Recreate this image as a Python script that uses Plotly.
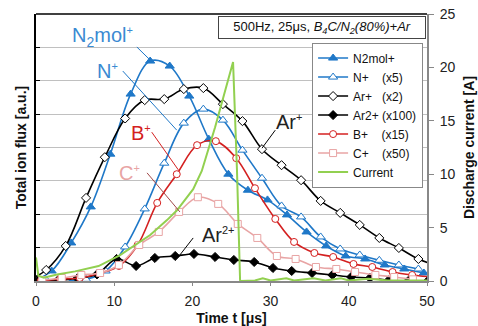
import plotly.graph_objects as go

# ---------------- data ----------------
t_n2mol = [-0.5, 2.0, 4.5, 7.0, 9.5, 12.1, 14.6, 17.1, 19.6, 22.1, 24.6, 27.1, 29.6, 32.1, 34.6, 37.1, 39.6, 42.1, 44.6, 47.1, 49.6]
n2mol = [0.0, 0.30, 1.14, 2.22, 3.80, 5.60, 6.59, 6.44, 5.54, 4.25, 3.20, 2.72, 2.43, 1.98, 1.47, 1.05, 0.75, 0.66, 0.48, 0.36, 0.24]

t_n = [1.4, 3.9, 6.4, 8.9, 11.4, 13.9, 16.4, 18.9, 21.4, 23.9, 26.4, 28.9, 31.4, 33.9, 36.4, 38.9, 41.4, 43.9, 46.4, 48.9]
n_plus = [0.0, 0.0, 0.05, 0.30, 1.02, 2.16, 3.53, 4.73, 5.15, 4.82, 3.92, 3.08, 2.25, 1.92, 1.32, 0.96, 0.78, 0.62, 0.48, 0.36]

t_ar = [-1.2, 1.3, 3.8, 6.4, 8.8, 11.4, 13.9, 16.4, 18.9, 21.4, 23.9, 26.4, 28.9, 31.4, 33.9, 36.4, 38.9, 41.4, 43.9, 46.4, 48.9, 51.4]
ar_plus = [0.0, 0.33, 1.05, 2.49, 3.71, 4.87, 5.42, 5.45, 5.75, 5.78, 5.30, 4.79, 3.95, 3.47, 3.02, 2.40, 2.04, 1.68, 1.29, 0.99, 0.66, 0.45]

t_ar2 = [0.3, 2.8, 5.3, 7.8, 10.3, 12.8, 15.2, 17.8, 20.2, 22.9, 25.3, 27.9, 30.3, 32.7, 35.3, 37.9, 40.3, 42.7, 45.1, 47.6, 50.1]
ar2_plus = [0.05, 0.02, 0.08, 0.20, 0.66, 0.45, 0.69, 0.75, 0.81, 0.72, 0.63, 0.57, 0.39, 0.30, 0.24, 0.18, 0.12, 0.09, 0.02, 0.0, 0.0]

t_b = [0.6, 3.1, 5.6, 8.2, 10.6, 13.0, 15.5, 18.0, 20.6, 23.0, 25.6, 28.0, 30.6, 33.0, 35.6, 38.0, 40.6, 43.0, 45.6, 48.1, 50.6]
b_plus = [0.0, 0.06, 0.09, 0.24, 0.45, 1.08, 2.34, 3.20, 4.07, 4.19, 3.68, 2.78, 1.86, 1.17, 0.84, 0.72, 0.51, 0.42, 0.27, 0.18, 0.12]

t_c = [0.8, 3.3, 5.8, 8.2, 10.6, 13.2, 15.7, 18.3, 20.7, 23.3, 25.8, 28.3, 30.8, 33.2, 35.8, 38.4, 40.8, 43.4, 45.8, 48.2]
c_plus = [0.03, 0.09, 0.18, 0.24, 0.48, 1.08, 1.47, 2.07, 2.51, 2.31, 1.71, 1.29, 0.75, 0.66, 0.42, 0.36, 0.27, 0.18, 0.12, 0.05]

t_cur = [0.0, 0.3, 1.0, 2.7, 5.0, 8.0, 10.7, 13.3, 14.6, 16.75, 18.0, 20.1, 21.2, 22.9, 25.2, 25.7, 26.1, 28.0, 29.0, 30.0, 32.0, 33.0, 35.5, 37.0, 39.0, 40.0, 42.5, 45.0, 50.0]
current = [2.2, 0.5, 0.3, 0.6, 0.9, 1.4, 2.4, 3.7, 4.3, 5.7, 6.6, 8.6, 10.3, 14.4, 20.5, 10.4, 0.0, 0.05, 0.25, 0.05, 0.25, 0.05, 0.25, 0.05, 0.25, 0.05, 0.2, 0.05, 0.05]

x_ticks = [0, 10, 20, 30, 40, 50]
y2_ticks = [0, 5, 10, 15, 20, 25]

# ---------------- styles ----------------
BLUE = "#1F78C8"
LBLUE = "#3A8AD2"
RED = "#D42020"
PINK = "#E8A4A4"
GREEN = "#92D050"
BLACK = "#000000"
FONT = "Arial, Liberation Sans, sans-serif"

fig = go.Figure()

def series(name, x, y, color, symbol, filled, size=7):
    fig.add_trace(go.Scatter(
        x=x, y=y, name=name, mode="lines+markers",
        line=dict(color=color, width=1.6, shape="spline", smoothing=1.0),
        marker=dict(symbol=symbol, size=size,
                    color=color if filled else "white",
                    line=dict(color=color, width=1)),
        yaxis="y"))

series("N2mol+", t_n2mol, n2mol, BLUE, "triangle-up", True, 8)
series("N+\u00a0\u00a0\u00a0\u00a0(x5)", t_n, n_plus, BLUE, "triangle-up", False, 8)
series("Ar+\u00a0\u00a0\u00a0(x2)", t_ar, ar_plus, BLACK, "diamond", False, 7)
series("Ar2+ (x100)", t_ar2, ar2_plus, BLACK, "diamond", True, 7)
series("B+\u00a0\u00a0\u00a0\u00a0(x15)", t_b, b_plus, RED, "circle", False, 7)
series("C+\u00a0\u00a0\u00a0\u00a0(x50)", t_c, c_plus, PINK, "square", False, 7)

fig.add_trace(go.Scatter(
    x=t_cur, y=current, name="Current", mode="lines",
    line=dict(color=GREEN, width=2), yaxis="y2"))

# ---------------- labels with leader lines (positions in data units) ----------------
SUP = "<sup><span style='font-size:11px'>{}</span></sup>"
labels = [
    ("N<sub>2</sub>mol" + SUP.format("+"), 8.44, 7.30, LBLUE, (12.9, 7.01, 14.6, 6.62)),
    ("N" + SUP.format("+"), 9.1, 6.28, LBLUE, (11.1, 6.29, 18.0, 4.52)),
    ("B" + SUP.format("+"), 13.4, 4.42, RED, (14.8, 4.46, 18.2, 3.33)),
    ("C" + SUP.format("+"), 12.0, 3.24, PINK, (14.2, 3.24, 18.4, 2.07)),
    ("Ar" + SUP.format("+"), 32.4, 4.76, "#222222", (30.6, 4.52, 28.9, 3.98)),
    ("Ar" + SUP.format("2+"), 23.4, 1.38, "#222222", (20.1, 1.29, 18.2, 0.72)),
]
lead_colors = [BLUE, BLUE, RED, "#A04848", BLACK, BLACK]
for (txt, lx, ly, col, seg), lc in zip(labels, lead_colors):
    fig.add_annotation(x=lx, y=ly, xref="x", yref="y", text=txt, showarrow=False,
                       font=dict(family=FONT, size=20, color=col))
    fig.add_shape(type="line", xref="x", yref="y", x0=seg[0], y0=seg[1], x1=seg[2], y1=seg[3],
                  line=dict(color=lc, width=1))

# condition box
fig.add_annotation(xref="paper", yref="paper", x=0.7315, y=0.9485, xanchor="center", yanchor="middle",
                   text="500Hz, 25μs, <i>B<sub>4</sub>C/N<sub>2</sub>(80%)+Ar</i>",
                   showarrow=False, font=dict(family=FONT, size=13, color="#111"),
                   bgcolor="white", bordercolor="#444", borderwidth=1, width=204, height=19)

# top border
fig.add_shape(type="line", xref="paper", yref="paper", x0=0, x1=1, y0=1, y1=1,
              line=dict(color="black", width=1.5))

fig.update_layout(
    width=478, height=326,
    margin=dict(l=36, r=51, t=14, b=45, autoexpand=False),
    paper_bgcolor="white", plot_bgcolor="white",
    font=dict(family=FONT, size=13, color="#111"),
    showlegend=True,
    legend=dict(x=0.99, y=0.893, xanchor="right", yanchor="top",
                bgcolor="white", bordercolor="#888", borderwidth=1,
                font=dict(family=FONT, size=12, color="#111"),
                tracegroupgap=0, itemwidth=30),
    xaxis=dict(range=[0, 50], tickvals=x_ticks, showgrid=False, zeroline=False, automargin=False,
               showline=True, linecolor="#888", linewidth=1.5,
               ticks="outside", ticklen=3, tickcolor="#888", ticklabelstandoff=3,
               tickfont=dict(size=14, family=FONT, color="#222"),
               title=dict(text="<b>Time t [μs]</b>", font=dict(size=14, family=FONT, color="#111"), standoff=10)),
    yaxis=dict(range=[0, 8], dtick=1, showticklabels=False, showgrid=True, gridcolor="#C0C0C0",
               gridwidth=1, zeroline=False, showline=True, linecolor="black", linewidth=2, automargin=False,
               ticks="inside", ticklen=4, tickcolor="black",
               title=dict(text="<b>Total ion flux [a.u.]</b>", font=dict(size=14, family=FONT, color="#111"), standoff=4)),
    yaxis2=dict(range=[0, 25], tickvals=y2_ticks, overlaying="y", side="right", showgrid=False,
                zeroline=False, showline=True, linecolor="#888", linewidth=2, automargin=False,
                ticks="outside", ticklen=5, tickcolor="#888", ticklabelstandoff=3,
                tickfont=dict(size=14, family=FONT, color="#222"),
                title=dict(text="<b>Discharge current [A]</b>", font=dict(size=14, family=FONT, color="#111"), standoff=10)),
)

fig.write_html("out.html")
